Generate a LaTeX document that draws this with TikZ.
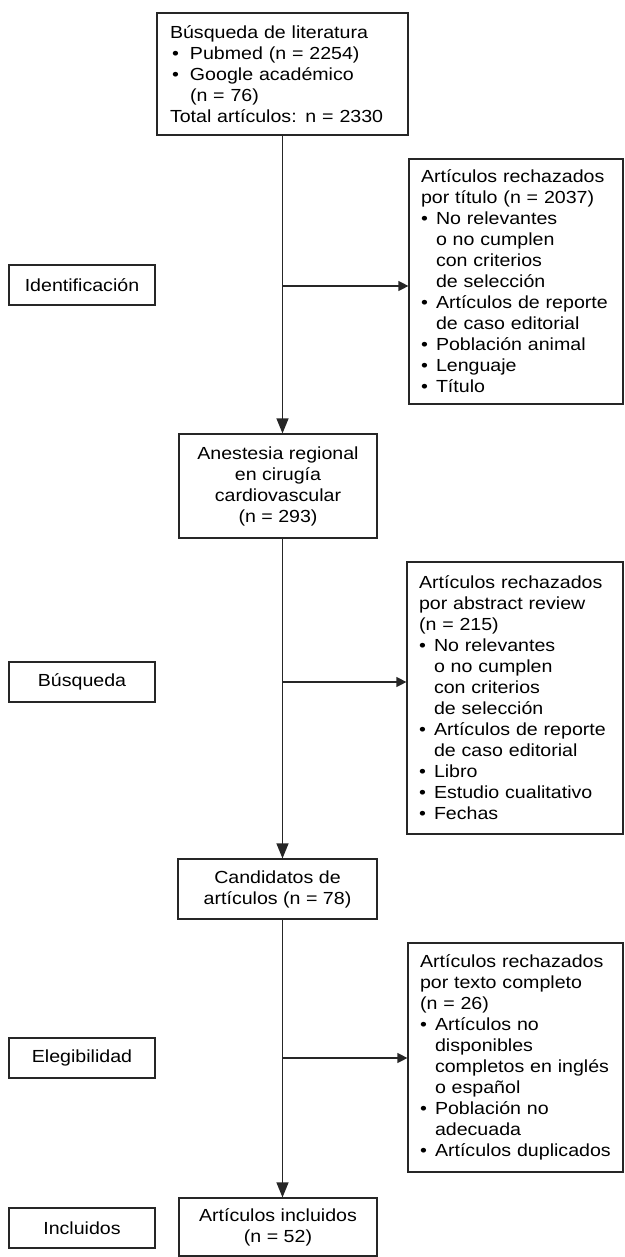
\documentclass[tikz,border=0pt]{standalone}
\usepackage{fontspec}
\setmainfont[FakeStretch=1.12]{Liberation Sans}
\usetikzlibrary{arrows.meta}
\hyphenpenalty=10000
\exhyphenpenalty=10000
\newcommand{\bul}[1]{\makebox[15pt][l]{\textbullet}#1}
\newcommand{\cont}[1]{\hspace*{15pt}#1}
\newcommand{\tbul}[1]{\makebox[20pt][l]{\hspace{2pt}\textbullet}#1}
\newcommand{\tcont}[1]{\hspace*{20pt}#1}
\begin{document}
\begin{tikzpicture}[x=1pt,y=-1pt,
  box/.style={draw=black!85, line width=1.2pt, inner sep=0pt,
    font=\fontsize{17.5}{21}\selectfont},
  lbox/.style={box, align=left, inner xsep=12pt},
  cbox/.style={box, align=center},
  side/.style={box, align=center, minimum width=146pt, minimum height=40pt},
  arrv/.style={draw=black!85, line width=1.2pt, -{Triangle[length=15pt,width=12pt]}},
  arrh/.style={draw=black!85, line width=1.2pt, -{Triangle[length=10pt,width=10pt]}},
]
\useasboundingbox (0,0) rectangle (624,1257);

% main column
\node[lbox, inner xsep=13pt, text width=225pt, minimum height=122pt] (top) at (282.5,74)
 {Búsqueda de literatura\\
  \tbul{Pubmed (n = 2254)}\\
  \tbul{Google académico}\\
  \tcont{(n = 76)}\\
  Total artículos: n = 2330};

\node[cbox, minimum width=198pt, minimum height=104pt] (anest) at (278,486)
 {Anestesia regional\\ en cirugía\\ cardiovascular\\ (n = 293)};

\node[cbox, minimum width=199pt, minimum height=60pt] (cand) at (277.5,889)
 {Candidatos de\\ artículos (n = 78)};

\node[cbox, minimum width=198pt, minimum height=58pt] (final) at (278,1227)
 {Artículos incluidos\\ (n = 52)};

% rejected boxes
\node[lbox, text width=190pt, minimum height=245pt] (rej1) at (516,281.5)
 {Artículos rechazados\\
  por título (n = 2037)\\
  \bul{No relevantes}\\
  \cont{o no cumplen}\\
  \cont{con criterios}\\
  \cont{de selección}\\
  \bul{Artículos de reporte}\\
  \cont{de caso editorial}\\
  \bul{Población animal}\\
  \bul{Lenguaje}\\
  \bul{Título}};

\node[lbox, text width=192pt, minimum height=272pt] (rej2) at (515,698)
 {Artículos rechazados\\
  por abstract review\\
  (n = 215)\\
  \bul{No relevantes}\\
  \cont{o no cumplen}\\
  \cont{con criterios}\\
  \cont{de selección}\\
  \bul{Artículos de reporte}\\
  \cont{de caso editorial}\\
  \bul{Libro}\\
  \bul{Estudio cualitativo}\\
  \bul{Fechas}};

\node[lbox, text width=191pt, minimum height=229pt] (rej3) at (515.5,1057.5)
 {Artículos rechazados\\
  por texto completo\\
  (n = 26)\\
  \bul{Artículos no}\\
  \cont{disponibles}\\
  \cont{completos en inglés}\\
  \cont{o español}\\
  \bul{Población no}\\
  \cont{adecuada}\\
  \bul{Artículos duplicados}};

% side labels
\node[side] (ident) at (82,285) {Identificación};
\node[side] (busq) at (82,682) {Búsqueda};
\node[side] (eleg) at (82,1058) {Elegibilidad};
\node[side] (incl) at (82,1228) {Incluidos};

% connectors
\coordinate (b1) at (282.5,286);
\coordinate (b2) at (282.5,682);
\coordinate (b3) at (282.5,1058);

\draw[arrv] (top.south) -- (top.south |- anest.north);
\draw[arrv] (top.south |- anest.south) -- (top.south |- cand.north);
\draw[arrv] (top.south |- cand.south) -- (top.south |- final.north);

\draw[arrh] (b1) -- (b1 -| rej1.west);
\draw[arrh] (b2) -- (b2 -| rej2.west);
\draw[arrh] (b3) -- (b3 -| rej3.west);
\end{tikzpicture}
\end{document}
